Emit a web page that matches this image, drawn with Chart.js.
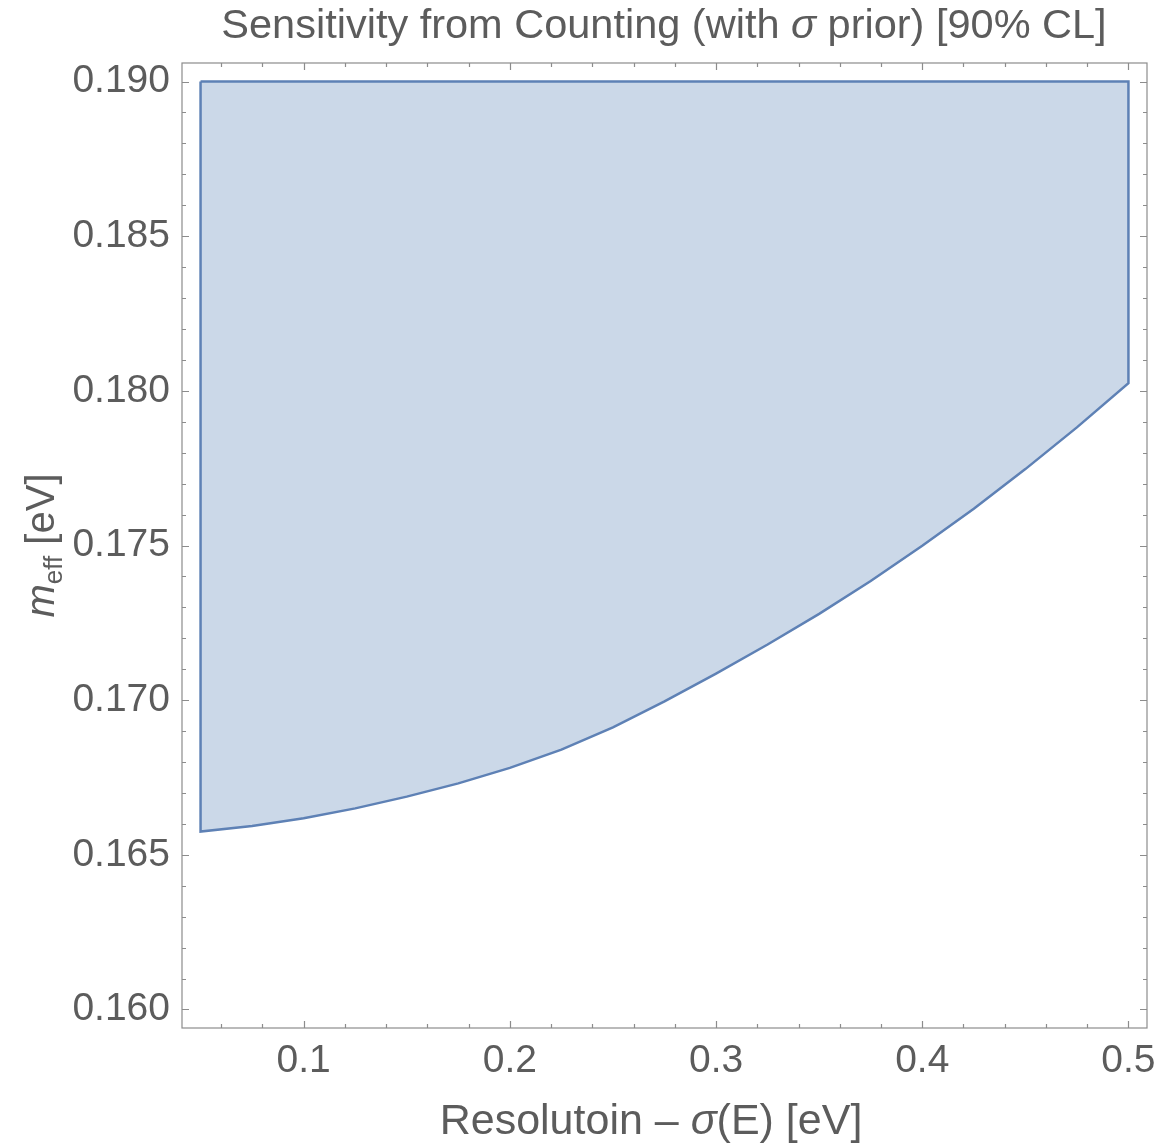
<!DOCTYPE html>
<html>
<head>
<meta charset="utf-8">
<script src="https://cdn.jsdelivr.net/npm/chart.js@4.4.0/dist/chart.umd.min.js"></script>
<style>
  html, body { margin: 0; padding: 0; background: #fff; }
  #wrap { width: 1168px; height: 1146px; position: relative; }
</style>
</head>
<body>
<div id="wrap"><canvas id="sens"></canvas></div>
<script>
// ---- Data: 90% CL sensitivity boundary ----
const resolution = [0.05, 0.075, 0.1, 0.125, 0.15, 0.175, 0.2, 0.225, 0.25, 0.275,
                    0.3, 0.325, 0.35, 0.375, 0.4, 0.425, 0.45, 0.475, 0.5];
const mEffLimit = [0.16575, 0.16593, 0.16618, 0.16650, 0.16688, 0.16731, 0.16781, 0.16840, 0.16912, 0.16996,
                   0.17086, 0.17180, 0.17279, 0.17385, 0.17499, 0.17619, 0.17747, 0.17882, 0.18025];
const mEffTop = 0.190;

const xTicks = [0.1, 0.2, 0.3, 0.4, 0.5];
const yTicks = [0.160, 0.165, 0.170, 0.175, 0.180, 0.185, 0.190];
const xRange = [0.041, 0.509];
const yRange = [0.1594, 0.1906];

// minor ticks: every 0.02 on x, every 0.001 on y
const xMinor = [];
for (let i = 3; i <= 25; i++) xMinor.push(i * 0.02);
const yMinor = [];
for (let i = 160; i <= 190; i++) yMinor.push(i / 1000);

// ---- Styling ----
const FONT = '"Liberation Sans", Arial, sans-serif';
const TEXT = '#5c5c5c';
const FRAME = '#8c8c8c';
const LINE = 'rgb(94,129,181)';
const FILL = 'rgb(203,216,232)';

// closed outline: top-left corner, down the left edge, along the limit curve, up the right edge
const region = [{ x: resolution[0], y: mEffTop }]
  .concat(resolution.map((x, i) => ({ x, y: mEffLimit[i] })))
  .concat([{ x: resolution[resolution.length - 1], y: mEffTop }, { x: resolution[0], y: mEffTop }]);

function drawRuns(ctx, runs, cx, baseline) {
  let total = 0;
  runs.forEach(r => { ctx.font = r.font; r.w = ctx.measureText(r.text).width; total += r.w; });
  let x = cx - total / 2;
  runs.forEach(r => {
    ctx.font = r.font;
    ctx.fillText(r.text, x, baseline + (r.dy || 0));
    x += r.w;
  });
}

// frame on all four sides with inward major/minor ticks
const framePlugin = {
  id: 'frame',
  afterDatasetsDraw(chart) {
    const { ctx, chartArea: a, scales: { x, y } } = chart;
    ctx.save();
    ctx.strokeStyle = FRAME;
    ctx.lineWidth = 1.2;
    ctx.strokeRect(a.left, a.top, a.right - a.left, a.bottom - a.top);
    ctx.beginPath();
    const isMajor = (list, v) => list.some(t => Math.abs(t - v) < 1e-9);
    xMinor.forEach(v => {
      const len = isMajor(xTicks, v) ? 7 : 4;
      const px = Math.round(x.getPixelForValue(v)) + 0.5;
      ctx.moveTo(px, a.bottom); ctx.lineTo(px, a.bottom - len);
      ctx.moveTo(px, a.top); ctx.lineTo(px, a.top + len);
    });
    yMinor.forEach(v => {
      const len = isMajor(yTicks, v) ? 7 : 4;
      const py = Math.round(y.getPixelForValue(v)) + 0.5;
      ctx.moveTo(a.left, py); ctx.lineTo(a.left + len, py);
      ctx.moveTo(a.right, py); ctx.lineTo(a.right - len, py);
    });
    ctx.stroke();
    ctx.restore();
  },
  afterDraw(chart) {
    const { ctx, chartArea: a } = chart;
    ctx.save();
    ctx.fillStyle = TEXT;
    ctx.textBaseline = 'alphabetic';
    ctx.textAlign = 'left';
    const reg = `40px ${FONT}`, ital = `italic 40px ${FONT}`;
    drawRuns(ctx, [
      { text: 'Sensitivity from Counting (with ', font: `41.5px ${FONT}` },
      { text: 'σ', font: `italic 41.5px ${FONT}` },
      { text: ' prior) [90% CL]', font: `41.5px ${FONT}` }
    ], 664, 38);
    drawRuns(ctx, [
      { text: 'Resolutoin – ', font: `43px ${FONT}` },
      { text: 'σ', font: `italic 43px ${FONT}` },
      { text: '(E) [eV]', font: `43px ${FONT}` }
    ], 651, 1134);
    ctx.translate(54, (a.top + a.bottom) / 2);
    ctx.rotate(-Math.PI / 2);
    drawRuns(ctx, [
      { text: 'm', font: ital },
      { text: 'eff', font: `26px ${FONT}`, dy: 8 },
      { text: ' [eV]', font: reg }
    ], 0, 0);
    ctx.restore();
  }
};

new Chart(document.getElementById('sens'), {
  type: 'scatter',
  data: {
    datasets: [{
      data: region,
      showLine: true,
      fill: 'shape',
      backgroundColor: FILL,
      borderColor: LINE,
      borderWidth: 2.5,
      borderJoinStyle: 'miter',
      pointRadius: 0,
      tension: 0
    }]
  },
  options: {
    responsive: true,
    maintainAspectRatio: false,
    animation: false,
    layout: { padding: { top: 63, right: 21, left: 0, bottom: 0 } },
    plugins: { legend: { display: false }, tooltip: { enabled: false } },
    scales: {
      x: {
        type: 'linear',
        min: xRange[0], max: xRange[1],
        grid: { display: false, drawTicks: false },
        border: { display: false },
        afterBuildTicks: s => { s.ticks = xTicks.map(v => ({ value: v })); },
        afterFit: s => { s.height = 118; },
        ticks: {
          color: TEXT, padding: 10,
          font: { family: FONT, size: 39 },
          maxRotation: 0, autoSkip: false,
          callback: v => v.toFixed(1)
        }
      },
      y: {
        type: 'linear',
        min: yRange[0], max: yRange[1],
        grid: { display: false, drawTicks: false },
        border: { display: false },
        afterBuildTicks: s => { s.ticks = yTicks.map(v => ({ value: v })); },
        afterFit: s => { s.width = 182; },
        ticks: {
          color: TEXT, padding: 12,
          font: { family: FONT, size: 39 },
          autoSkip: false,
          callback: v => v.toFixed(3)
        }
      }
    }
  },
  plugins: [framePlugin]
});
</script>
</body>
</html>
